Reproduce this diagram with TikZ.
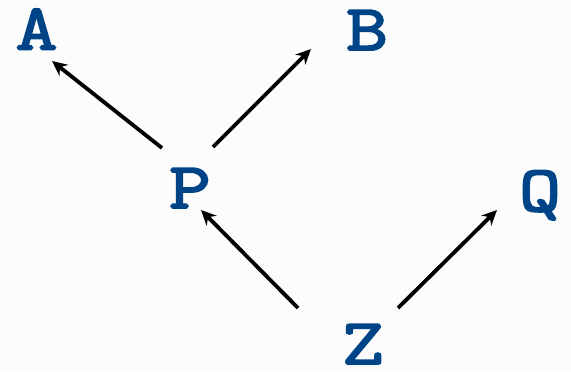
\documentclass[tikz,border=0pt]{standalone}
\usepackage{fontspec}
\newfontfamily\varfont{Latin Modern Mono}[FakeBold=3, FakeStretch=1.25]
\usetikzlibrary{arrows.meta}
\definecolor{letterblue}{RGB}{0,68,136}
\definecolor{paper}{RGB}{252,252,252}
\tikzset{
  var/.style={font=\varfont\fontsize{65bp}{65bp}\selectfont, text=letterblue,
    inner sep=0pt, text height=36bp, text depth=0pt, anchor=center},
  arr/.style={-{Stealth[length=15bp,width=14bp]}, line width=3.8bp, black}
}
\begin{document}
\begin{tikzpicture}[x=1bp,y=1bp]
  \fill[paper] (0,0) rectangle (571,371);
  \useasboundingbox (0,0) rectangle (571,371);
  \node[var] (A) at (36.5,339.5) {A};
  \node[var] (B) at (367,339) {B};
  \node[var] (P) at (190,181) {P};
  \node[var] (Q) at (540,178) {Q};
  \node[var] (Z) at (363,25) {Z};
  \draw[arr] ([shift={(-28,42)}]P.center) -- ([shift={(15.5,-29.5)}]A.center);
  \draw[arr] ([shift={(23,43)}]P.center) -- ([shift={(-56,-17)}]B.center);
  \draw[arr] ([shift={(-65,38)}]Z.center) -- ([shift={(11,-20)}]P.center);
  \draw[arr] ([shift={(35,38)}]Z.center) -- ([shift={(-43,-17)}]Q.center);
\end{tikzpicture}
\end{document}
